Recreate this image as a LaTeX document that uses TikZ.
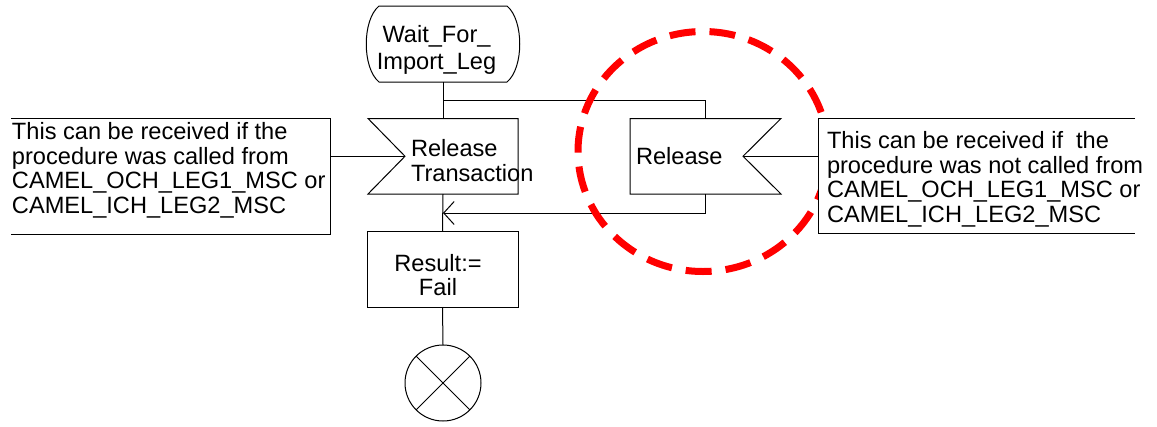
\documentclass[tikz,border=0pt]{standalone}
\usepackage{fontspec}
\setmainfont{Liberation Sans}
\usetikzlibrary{arrows.meta}
\newcommand\dfont{\fontsize{23.6}{24.4}\selectfont}
\tikzset{
  ln/.style={line width=1pt, draw=black},
  shp/.style={inner sep=0pt, outer sep=0pt, draw=none},
  txt/.style={font=\dfont, inner sep=0pt, outer sep=0pt, align=left},
  redring/.style={draw=red, line width=7pt, dash pattern=on 26pt off 14pt},
  barb/.style={-{Straight Barb[length=10.5pt, width=23pt]}},
}
\begin{document}
\begin{tikzpicture}[x=1pt, y=-1pt]
\useasboundingbox (0,0) rectangle (1157,426);

% shape holders
\node[shp, minimum width=128pt, minimum height=76pt] (wait) at (443,44) {};
\node[shp, minimum width=150pt, minimum height=75.5pt] (rt) at (443,156.25) {};
\node[shp, minimum width=151pt, minimum height=75.5pt] (rel) at (705.5,156.25) {};
\node[shp, minimum width=319pt, minimum height=116pt] (lc) at (170.5,176) {};
\node[shp, draw, ln, minimum width=151pt, minimum height=76pt] (res) at (442.5,269) {};
\node[shp, draw, ln, circle, minimum size=76pt] (stop) at (443,383) {};
\coordinate (rtin) at ([xshift=37pt]rt.west);
\coordinate (relin) at ([xshift=-38pt]rel.east);
\coordinate (br) at (443,100);
\coordinate (jn) at (443,213);

% wait state
\draw[ln] (wait.north west) -- (wait.north east)
  .. controls ([shift={(17,14)}]wait.north east) and ([shift={(17,-14)}]wait.south east) .. (wait.south east)
  -- (wait.south west)
  .. controls ([shift={(-17,-14)}]wait.south west) and ([shift={(-17,14)}]wait.north west) .. (wait.north west) -- cycle;
\node[txt, align=center, anchor=north, font=\fontsize{23.6}{27}\selectfont] (waitt) at (436.5,25) {Wait\_For\_\\Import\_Leg};

% release transaction input
\draw[ln] (rt.north west) -- (rt.north east) -- (rt.south east) -- (rt.south west) -- (rtin) -- cycle;
\node[txt, anchor=north west, font=\fontsize{23.6}{25.5}\selectfont] (rtt) at (411,139) {Release\\Transaction};

% release input
\draw[ln] (rel.north west) -- (rel.north east) -- (relin) -- (rel.south east) -- (rel.south west) -- cycle;
\node[txt, anchor=north west] (relt) at (636,147.3) {Release};

% connectors
\draw[ln] (wait.south) -- (rt.north);
\draw[ln] (br) -| (rel.north);
\draw[ln, barb] (rel.south) |- (jn);
\draw[ln] (rt.south) -- (res.north);
\draw[ln] (res.south) -- (stop.north);
\draw[ln] (stop.north west) -- (stop.south east);
\draw[ln] (stop.north east) -- (stop.south west);
\node[txt, align=center, anchor=north] (rest) at (438,254) {Result:=\\Fail};

% left comment
\draw[ln] (lc.north west) -- (lc.north east) -- (lc.south east) -- (lc.south west);
\node[txt, anchor=north west] (lct) at (12,122.7) {This can be received if the\\procedure was called from\\CAMEL\_OCH\_LEG1\_MSC or\\CAMEL\_ICH\_LEG2\_MSC};
\draw[ln] (rtin -| lc.east) -- (rtin);

% red dashed ring
\draw[redring] (703,151.5) ellipse [x radius=125pt, y radius=120pt];

% right comment
\node[shp, fill=white, minimum width=317pt, minimum height=115pt] (rc) at (976.5,175.75) {};
\draw[ln] (rc.north east) -- (rc.north west) -- (rc.south west) -- (rc.south east);
\node[txt, anchor=north west] (rct) at (827,131.7) {This can be received if~ the\\procedure was not called from\\CAMEL\_OCH\_LEG1\_MSC or\\CAMEL\_ICH\_LEG2\_MSC};
\draw[ln] (relin) -- (relin -| rc.west);
\end{tikzpicture}
\end{document}
